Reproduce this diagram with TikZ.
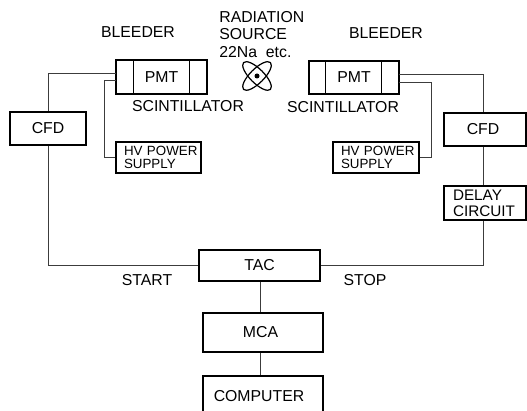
\documentclass[tikz,border=0pt]{standalone}
\usepackage{fontspec}
\setmainfont{Liberation Sans}
\usetikzlibrary{positioning}
\newcommand{\pu}{0.02cm}
\definecolor{wiregray}{RGB}{60,60,60}
\tikzset{
    box/.style={draw, line width=0.75pt, inner sep=0pt, font=\fontsize{9}{9}\selectfont},
    smallbox/.style={box, align=left, font=\fontsize{7.6}{7.3}\selectfont},
    tag/.style={inner sep=0pt, font=\fontsize{9}{9}\selectfont},
    wire/.style={draw=wiregray, line width=0.55pt}
}

\begin{document}
\begin{tikzpicture}[x=0.02cm, y=-0.02cm]
    \useasboundingbox (0,0) rectangle (527,411);

    \node[tag, anchor=west] (rad) at (219,17) {RADIATION};
    \node[tag, anchor=west] (src) at (219,34) {SOURCE};
    \node[tag, anchor=west] (na) at (219,52) {22Na\ \ etc.};
    \node[tag] (bleedl) at (138,32) {BLEEDER};
    \node[tag] (bleedr) at (386,33) {BLEEDER};
    \node[tag] (scintl) at (188,106) {SCINTILLATOR};
    \node[tag] (scintr) at (343,107) {SCINTILLATOR};
    \node[tag] (start) at (147,280) {START};
    \node[tag] (stop) at (365,280) {STOP};

    \node[box, minimum width=91*\pu, minimum height=34*\pu] (pmtl) at (161.5,77) {PMT};
    \node[box, minimum width=90*\pu, minimum height=33*\pu] (pmtr) at (354,77.5) {PMT};
    \draw[line width=0.5pt] ([xshift=18*\pu]pmtl.north west) -- ([xshift=18*\pu]pmtl.south west);
    \draw[line width=0.5pt] ([xshift=-18*\pu]pmtl.north east) -- ([xshift=-18*\pu]pmtl.south east);
    \draw[line width=0.5pt] ([xshift=17*\pu]pmtr.north west) -- ([xshift=17*\pu]pmtr.south west);
    \draw[line width=0.5pt] ([xshift=-18*\pu]pmtr.north east) -- ([xshift=-18*\pu]pmtr.south east);

    % source symbol
    \node[circle, fill, minimum size=5*\pu, inner sep=0pt] (atom) at (257,76) {};
    \draw[line width=0.7pt, rotate around={45:(atom.center)}] (atom.center) ellipse[x radius=19, y radius=7];
    \draw[line width=0.7pt, rotate around={-45:(atom.center)}] (atom.center) ellipse[x radius=19, y radius=7];

    \node[smallbox, text width=69*\pu, inner xsep=8*\pu, minimum height=31*\pu] (hvl) at (158.5,157.5) {HV~POWER\\SUPPLY};
    \node[smallbox, text width=70*\pu, inner xsep=8*\pu, minimum height=31*\pu] (hvr) at (376,157.5) {HV~POWER\\SUPPLY};

    \node[box, minimum width=76*\pu, minimum height=33*\pu] (cfdl) at (48,128.5) {CFD};
    \node[box, minimum width=82*\pu, minimum height=33*\pu] (cfdr) at (485,129.5) {\hspace*{-0.08cm}CFD};
    \node[box, align=left, text width=64*\pu, inner xsep=9*\pu, minimum height=34*\pu, font=\fontsize{8.7}{9}\selectfont] (delay) at (485,203) {DELAY\\CIRCUIT};

    \node[box, minimum width=121*\pu, minimum height=31*\pu] (tac) at (259.5,265.5) {TAC};
    \node[box, minimum width=120*\pu, minimum height=39*\pu] (mca) at (263,332.5) {\hspace*{-0.1cm}MCA};
    \node[box, minimum width=120*\pu, minimum height=40*\pu] (comp) at (263,396) {\hspace*{-0.16cm}COMPUTER};

    \coordinate (pl1) at (116,73);
    \coordinate (pl2) at (116,80);
    \coordinate (pr1) at (399,74);
    \coordinate (pr2) at (399,82);
    \coordinate (rbus) at (483,0);

    \draw[wire] (pl1) -| (cfdl.north);
    \draw[wire] (cfdl.south) |- (tac.west);
    \draw[wire] (pl2) -- ++(-12,0) |- (hvl.west);
    \draw[wire] (pr1) -| (rbus |- cfdr.north);
    \draw[wire] (pr2) -- ++(32,0) |- (hvr.east);
    \draw[wire] (rbus |- cfdr.south) -- (rbus |- delay.north);
    \draw[wire] (rbus |- delay.south) |- (tac.east);
    \draw[wire] (tac.south -| 260,0) -- (mca.north -| 260,0);
    \draw[wire] (mca.south -| 260,0) -- (comp.north -| 260,0);
\end{tikzpicture}
\end{document}
